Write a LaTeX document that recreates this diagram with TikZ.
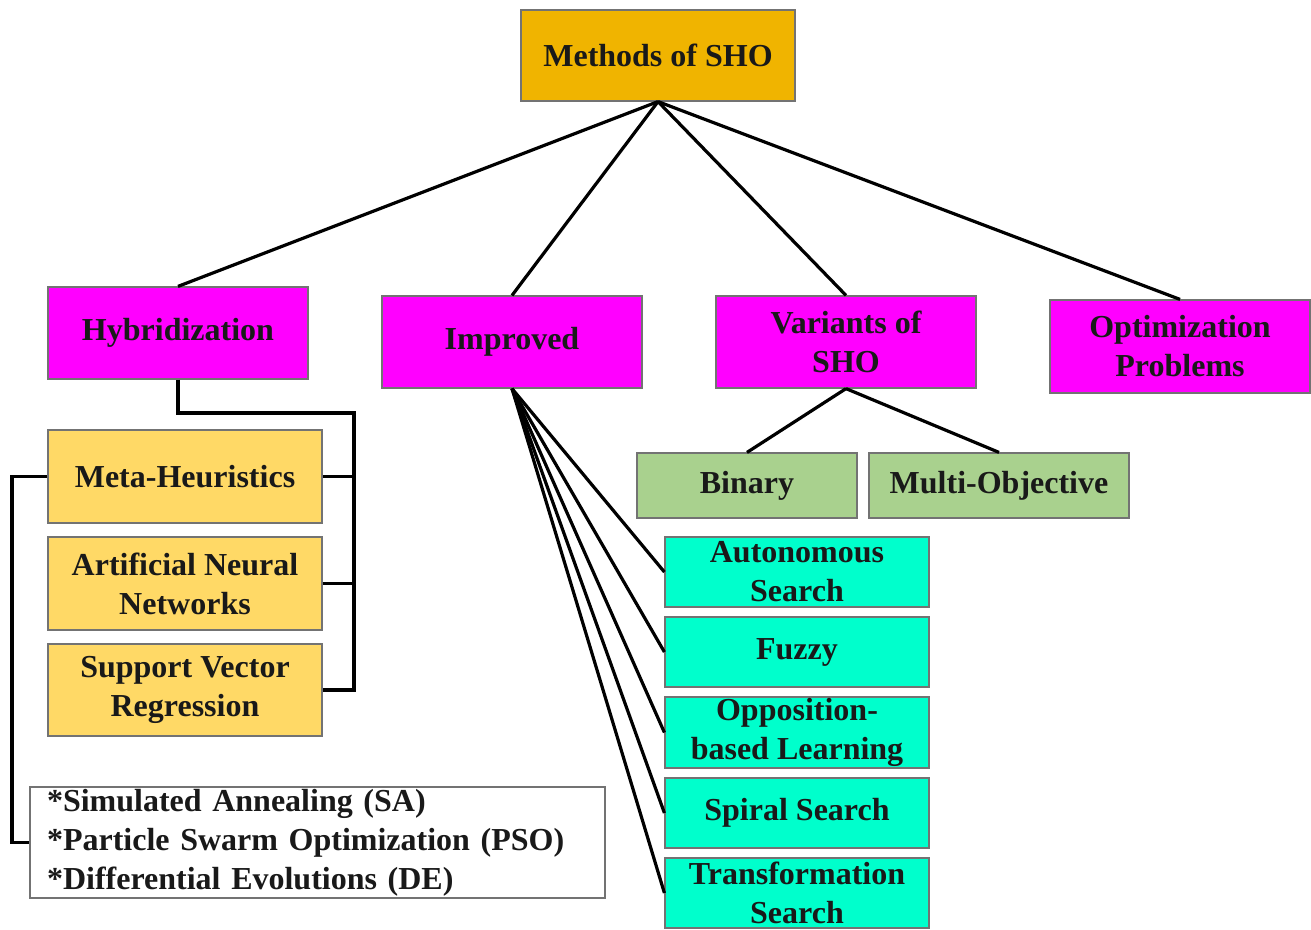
\documentclass[tikz,border=0pt]{standalone}
\usepackage{fontspec}
\setmainfont{Liberation Serif}
\begin{document}
\begin{tikzpicture}[x=1pt,y=-1pt,
  box/.style={draw=black!55, line width=1.2pt, inner sep=0pt, align=center,
    font=\fontsize{32}{39}\selectfont\bfseries, text=black!90},
  rootbox/.style={box, fill=rootc},
  catbox/.style={box, fill=catc, minimum width=260pt, minimum height=92pt},
  hybbox/.style={box, fill=hybc, minimum width=274pt, minimum height=93pt},
  varbox/.style={box, fill=varc, minimum height=65pt},
  impbox/.style={box, fill=impc, minimum width=264pt, minimum height=70pt},
  link/.style={line width=3.2pt, black, line join=miter}
]
\definecolor{rootc}{RGB}{240,180,0}
\definecolor{catc}{RGB}{255,0,255}
\definecolor{hybc}{RGB}{255,217,102}
\definecolor{varc}{RGB}{169,209,142}
\definecolor{impc}{RGB}{0,255,204}
\useasboundingbox (0,0) rectangle (1311,929);

% root
\node[rootbox, minimum width=274pt, minimum height=91pt] (root) at (658,55.5) {Methods of SHO};

% main categories
\node[catbox] (hyb) at (178,333) {Hybridization};
\node[catbox] (imp) at (512,342) {Improved};
\node[catbox] (var) at (846,342) {Variants of\\SHO};
\node[catbox, minimum height=93pt] (opt) at (1180,346.5) {Optimization\\Problems};

% hybridization members
\node[hybbox] (meta) at (185,476.5) {Meta-Heuristics};
\node[hybbox] (ann) at (185,583.5) {Artificial Neural\\Networks};
\node[hybbox, minimum height=92pt] (svr) at (185,690) {Support Vector\\Regression};
\node[box, fill=white, align=left, text width=541pt, inner xsep=17pt,
      minimum height=111pt] (list) at (317.5,842.5)
  {{*}Simulated Annealing (SA)\\{*}Particle Swarm Optimization (PSO)\\{*}Differential Evolutions (DE)};

% variants
\node[varbox, minimum width=220pt] (bin) at (747,485.5) {Binary};
\node[varbox, minimum width=260pt] (multi) at (999,485.5) {Multi-Objective};

% improvements
\node[impbox] (auto) at (797,572) {Autonomous\\Search};
\node[impbox] (fuzzy) at (797,652) {Fuzzy};
\node[impbox, minimum height=71pt] (obl) at (797,732.5) {Opposition-\\based Learning};
\node[impbox] (spiral) at (797,813) {Spiral Search};
\node[impbox] (trans) at (797,893) {Transformation\\Search};

% junction points of the brackets
\coordinate (hj) at (354,413);
\coordinate (lb) at (12,0);

% root fan-out
\foreach \c in {hyb,imp,var,opt}
  \draw[link] (root.south) -- (\c.north);

% hybridization bracket
\draw[link] (hyb.south) |- (hj) |- (svr.east);
\draw[link] (meta.east) -- (meta.east -| hj);
\draw[link] (ann.east) -- (ann.east -| hj);
\draw[link] (meta.west) -- (meta.west -| lb) |- (list.west);

% improved fan-out
\foreach \c in {auto,fuzzy,obl,spiral,trans}
  \draw[link] (imp.south) -- (\c.west);

% variants
\draw[link] (var.south) -- (bin.north);
\draw[link] (var.south) -- (multi.north);
\end{tikzpicture}
\end{document}
